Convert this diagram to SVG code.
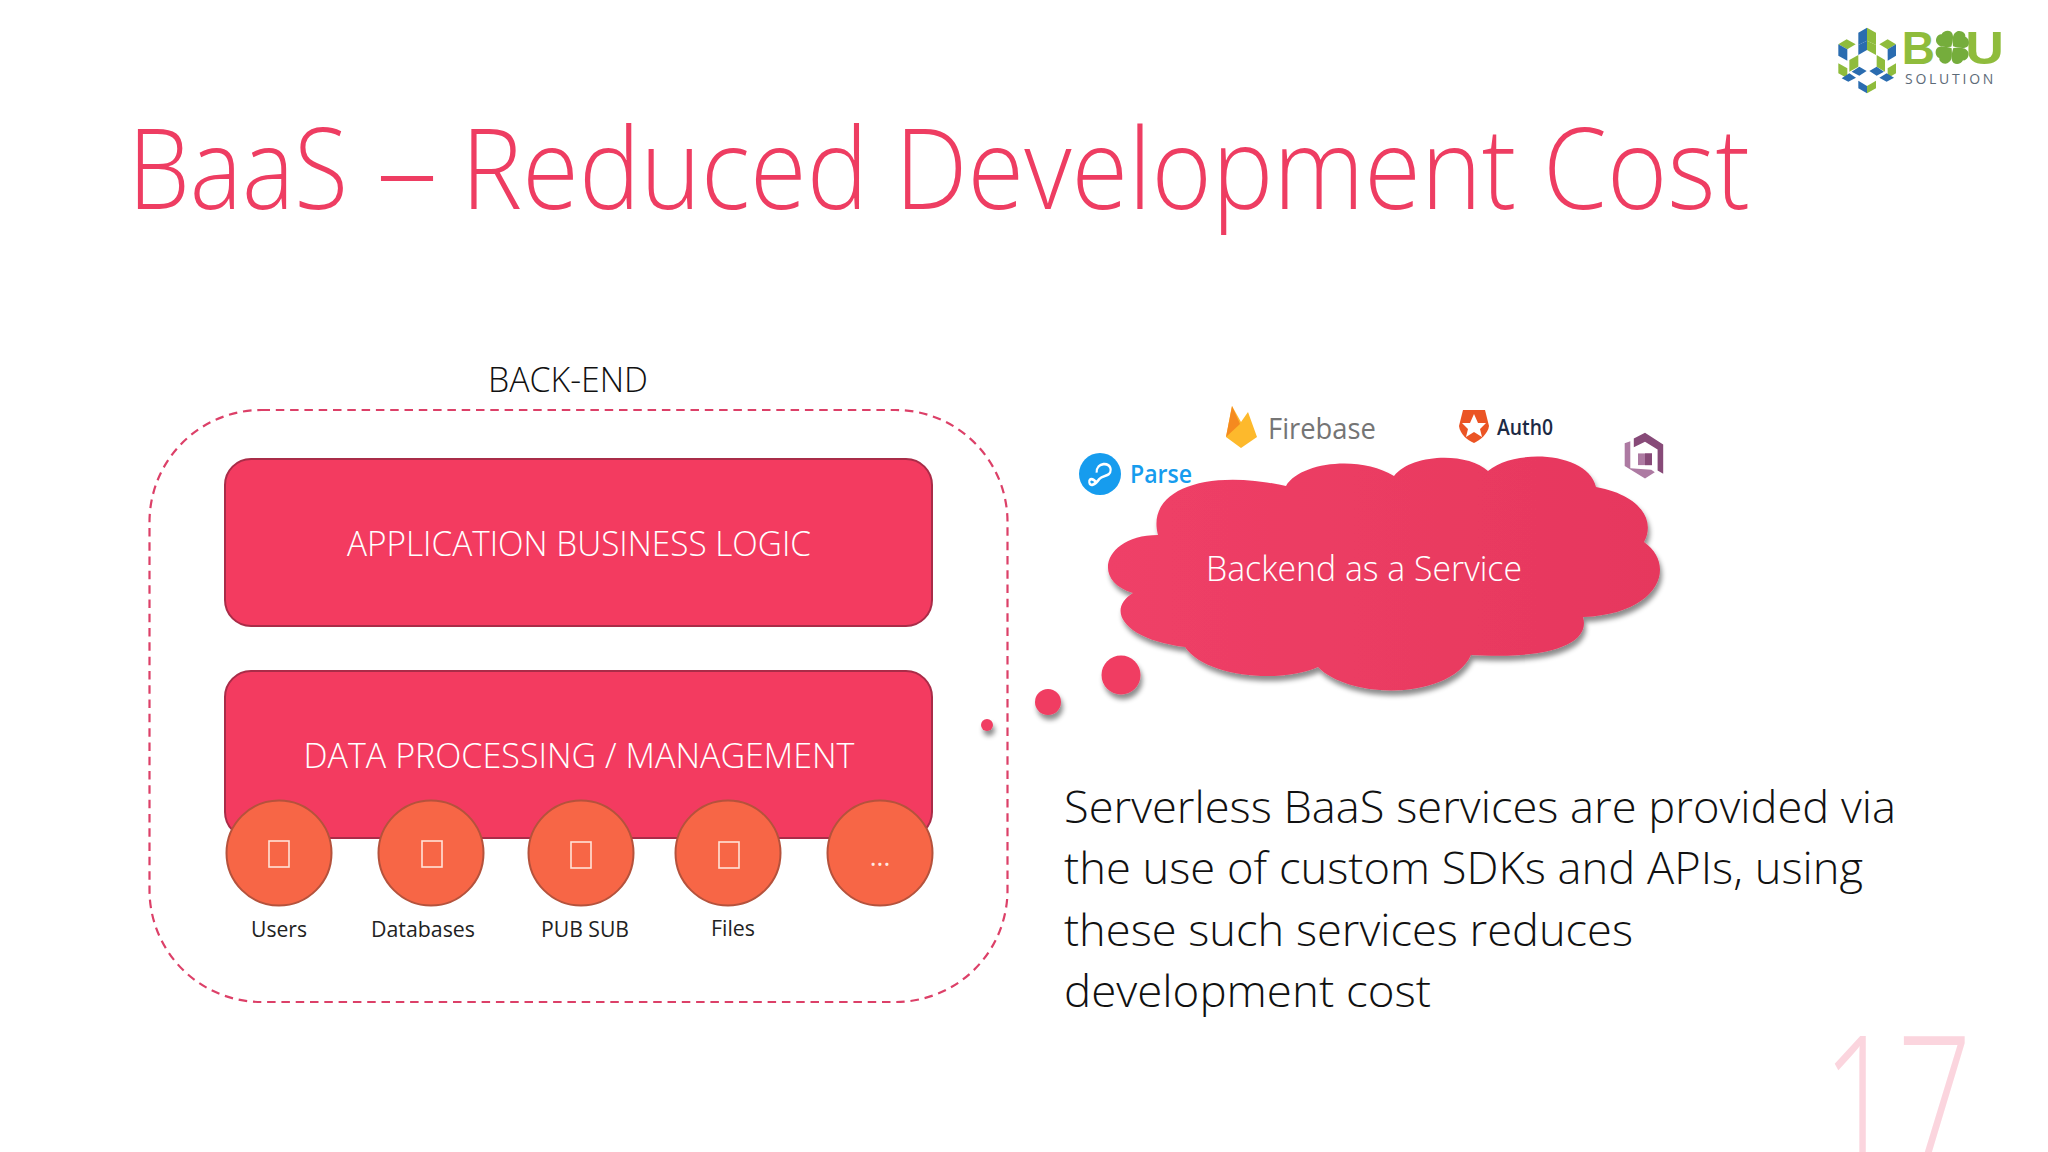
<svg xmlns="http://www.w3.org/2000/svg" width="2048" height="1152" viewBox="0 0 2048 1152">
<style>
text{font-family:"Open Sans","Noto Sans","Liberation Sans",sans-serif}
.title{font-size:112px;font-weight:300;fill:#ee3d62}
.bar{fill:#f33b60;stroke:#a92c48;stroke-width:2}
.barT{font-size:35px;font-weight:300;fill:#fff;text-anchor:middle}
.dot{fill:#f76646;stroke:#b5523c;stroke-width:2}
.tofu{fill:none;stroke:#ffe3d8;stroke-width:1.6}
.lab{font-size:22px;font-weight:400;fill:#222;text-anchor:middle}
.body{font-size:44px;font-weight:300;fill:#111}
.g{fill:#8fbc3c}.b{fill:#2a6cb0}
.bub{fill:#f03d62}
.dk{fill:#874a78}.lt{fill:#ad7aa2}
.bu{font-family:"Liberation Sans",sans-serif;font-weight:700;font-size:138px;fill:#8fbc3c}
</style>
<defs>
<linearGradient id="cg" x1="0" x2="1" y1="0" y2="0"><stop offset="0" stop-color="#ef4067"/><stop offset="1" stop-color="#e6375d"/></linearGradient>
<filter id="sh" x="-10%" y="-10%" width="120%" height="125%"><feDropShadow dx="2" dy="5" stdDeviation="2.5" flood-color="#000" flood-opacity=".45"/></filter>
<path id="leaf" d="M399 109C398 90 395 72 412 64C425 60 438 70 436 80C447 84 450 100 444 108C436 118 416 114 399 109Z" fill="#75ad3c"/>
</defs>
<rect width="2048" height="1152" fill="#fff"/>
<text class="title" x="128" y="209" textLength="220" lengthAdjust="spacingAndGlyphs">BaaS</text>
<text class="title" x="376" y="209" textLength="62" lengthAdjust="spacingAndGlyphs">–</text>
<text class="title" x="461" y="209" textLength="1289" lengthAdjust="spacingAndGlyphs">Reduced Development Cost</text>
<g id="logo-bu" transform="translate(1820 10) scale(.3333)">
<polygon class="b" points="115,68 141,53 141,92 115,105"/><polygon class="g" points="141,53 168,68 168,105 141,92"/>
<polygon class="b" points="115,105 141,92 141,120 115,135"/><polygon class="g" points="141,92 168,105 168,135 141,120"/>
<polygon class="g" points="55,103 80,88 107,103 82,118"/><polygon class="b" points="55,103 82,118 82,152 55,137"/>
<polygon class="g" points="178,103 203,88 228,103 203,118"/><polygon class="b" points="203,118 228,103 228,137 203,152"/>
<polygon class="g" points="55,160 82,175 82,205 55,190"/><polygon class="g" points="88,150 115,135 115,170 88,185"/>
<polygon class="b" points="95,185 118,170 140,183 118,197"/><polygon class="b" points="65,205 88,190 108,203 85,215"/>
<polygon class="g" points="170,135 195,150 195,185 170,170"/><polygon class="g" points="203,175 228,160 228,190 203,205"/>
<polygon class="b" points="148,183 170,170 192,185 170,197"/><polygon class="b" points="178,203 200,190 222,203 200,215"/>
<polygon class="b" points="115,212 141,228 141,250 115,235"/><polygon class="g" points="141,228 168,212 168,235 141,250"/>
<text class="bu" x="245" y="162">B</text>
<text class="bu" x="436" y="162" textLength="116" lengthAdjust="spacingAndGlyphs">U</text>
<use href="#leaf"/><use href="#leaf" transform="rotate(90 397 112)"/><use href="#leaf" transform="rotate(180 397 112)"/><use href="#leaf" transform="rotate(270 397 112)"/>
<text x="255" y="222" textLength="265" style="font-size:42px;fill:#5d6b78">SOLUTION</text>
</g>
<text x="488" y="392" textLength="160" lengthAdjust="spacingAndGlyphs" style="font-size:34px;font-weight:300;fill:#111">BACK-END</text>
<rect id="backend-boundary" x="149.500" y="410" width="858" height="592" rx="112" ry="112" fill="none" stroke="#dc4068" stroke-width="2.2" stroke-dasharray="8.500 5.800"/>
<g id="app-logic"><rect class="bar" x="225" y="459" width="707" height="167" rx="26"/><text class="barT" x="579" y="556" textLength="464" lengthAdjust="spacingAndGlyphs">APPLICATION BUSINESS LOGIC</text></g>
<g id="data-proc"><rect class="bar" x="225" y="671" width="707" height="167" rx="26"/><text class="barT" x="579" y="768" textLength="551" lengthAdjust="spacingAndGlyphs">DATA PROCESSING / MANAGEMENT</text></g>
<g id="users"><circle class="dot" cx="279" cy="853" r="52.500"/><rect class="tofu" x="269" y="841" width="20" height="26"/><text class="lab" x="279" y="937" textLength="56" lengthAdjust="spacingAndGlyphs">Users</text></g>
<g id="databases"><circle class="dot" cx="431" cy="853" r="52.500"/><rect class="tofu" x="422" y="841" width="20" height="26"/><text class="lab" x="423" y="937" textLength="104" lengthAdjust="spacingAndGlyphs">Databases</text></g>
<g id="pubsub"><circle class="dot" cx="581" cy="853" r="52.500"/><rect class="tofu" x="571" y="842" width="20" height="26"/><text class="lab" x="585" y="937" textLength="88" lengthAdjust="spacingAndGlyphs">PUB SUB</text></g>
<g id="files"><circle class="dot" cx="728" cy="853" r="52.500"/><rect class="tofu" x="719" y="842" width="20" height="26"/><text class="lab" x="733" y="936" textLength="44" lengthAdjust="spacingAndGlyphs">Files</text></g>
<g id="more"><circle class="dot" cx="880" cy="853" r="52.500"/><text x="880" y="866" text-anchor="middle" style="font-size:26px;fill:#ffe9e2">...</text></g>
<g id="thought-bubbles"><g filter="url(#sh)"><circle class="bub" cx="1121" cy="675" r="19.500"/><circle class="bub" cx="1048" cy="702" r="13"/><circle class="bub" cx="987" cy="725" r="6"/></g></g>
<g id="baas-cloud">
<path filter="url(#sh)" fill="url(#cg)" d="M1158 535C1146 490 1205 468 1286 486C1300 462 1360 455 1394 476C1412 453 1468 452 1488 471C1515 448 1588 452 1596 487C1640 495 1656 520 1644 542C1677 565 1660 614 1583 617C1590 640 1560 660 1471 655C1450 700 1350 700 1318 667C1280 684 1205 677 1185 647C1125 640 1105 610 1133 593C1090 580 1105 535 1158 535Z"/>
<text x="1364" y="581" text-anchor="middle" textLength="316" lengthAdjust="spacingAndGlyphs" style="font-size:34px;font-weight:300;fill:#fff">Backend as a Service</text>
</g>
<g id="parse"><circle cx="1100" cy="474" r="21" fill="#169cee"/><path transform="translate(1070 437) scale(.3333 .42)" d="M80 85C78 60 122 58 122 78C122 95 100 90 88 100C75 115 60 118 58 108C56 98 70 98 78 108" fill="none" stroke="#fff" stroke-width="6.500"/><text x="1130" y="483" textLength="62" lengthAdjust="spacingAndGlyphs" style="font-size:26px;font-weight:600;fill:#169cee">Parse</text></g>
<g id="firebase"><path d="M1226 437L1232 406L1241 422L1248 412L1257 437L1241 448Z" fill="#fdb92c"/><path d="M1226 437L1232 406L1240 424Z" fill="#f58a1f"/><text x="1268" y="439" textLength="108" lengthAdjust="spacingAndGlyphs" style="font-size:30px;fill:#757575">Firebase</text></g>
<g id="auth0"><path d="M1463 410L1485 410L1489 426C1488 434 1480 440 1474 443C1467 440 1460 434 1459 426Z" fill="#eb5424"/><polygon points="1474,414 1478,423 1486,423 1480,429 1482,437 1474,432 1466,437 1468,429 1462,423 1470,423" fill="#fff"/><text x="1497" y="435" textLength="56" lengthAdjust="spacingAndGlyphs" style="font-size:21px;font-weight:600;fill:#1c2a45">Auth0</text></g>
<g id="cognito" transform="translate(1610 423) scale(.35 .39)">
<polygon class="dk" points="68,40 100,25 152,55 152,130 136,122 136,68 100,48 68,62"/>
<polygon class="lt" points="42,52 58,47 58,116 118,120 128,126 100,142 42,110"/>
<polygon class="lt" points="80,78 120,78 120,108 80,108"/><polygon class="dk" points="100,78 120,78 120,108 100,108"/>
</g>
<text class="body" x="1064" y="823" textLength="832" lengthAdjust="spacingAndGlyphs">Serverless BaaS services are provided via</text>
<text class="body" x="1064" y="884" textLength="799" lengthAdjust="spacingAndGlyphs">the use of custom SDKs and APIs, using</text>
<text class="body" x="1064" y="946" textLength="569" lengthAdjust="spacingAndGlyphs">these such services reduces</text>
<text class="body" x="1064" y="1007" textLength="367" lengthAdjust="spacingAndGlyphs">development cost</text>
<text x="1822" y="1172" textLength="150" lengthAdjust="spacingAndGlyphs" style="font-size:190px;font-weight:300;fill:#fbd5de">17</text>
</svg>
